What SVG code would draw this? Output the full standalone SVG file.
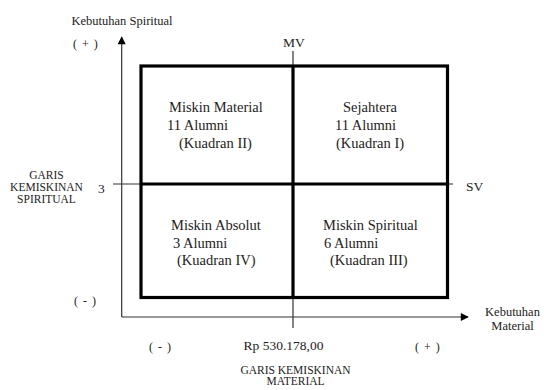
<svg xmlns="http://www.w3.org/2000/svg" width="544" height="390" viewBox="0 0 544 390">
<style>
text{font-family:"Liberation Serif","Times New Roman",serif;fill:#222}
.s{font-size:12px}
.m{font-size:13.5px}
.q{font-size:14.5px}
.c{font-size:11.5px;text-anchor:middle}
.thin{stroke:#333;stroke-width:1.2;fill:none}
.thick{stroke:#000;stroke-width:3.2;fill:none}
</style>
<defs>
<marker id="ah" viewBox="0 0 10 10" refX="9" refY="5" markerWidth="9" markerHeight="8" markerUnits="userSpaceOnUse" orient="auto"><path d="M0,0 L10,5 L0,10 Z" fill="#000"/></marker>
</defs>
<g id="connectors">
<path class="thin" d="M121.7,317 L121.7,37" marker-end="url(#ah)"/>
<path class="thin" d="M121.7,317 L468,317" marker-end="url(#ah)"/>
<path class="thin" d="M293,51 L293,328"/>
<path class="thin" d="M113,184 L453,184"/>
</g>
<g id="box">
<rect class="thick" x="141" y="66" width="306.5" height="231.5"/>
<line class="thick" x1="141" y1="184" x2="447.5" y2="184"/>
<line class="thick" x1="293" y1="66" x2="293" y2="297.5"/>
</g>
<g id="q2"><text class="q" x="169" y="112">Miskin Material</text><text class="q" x="167" y="130">11 Alumni</text><text class="q" x="179" y="148">(Kuadran II)</text></g>
<g id="q1"><text class="q" x="343" y="112">Sejahtera</text><text class="q" x="335" y="130">11 Alumni</text><text class="q" x="336" y="148">(Kuadran I)</text></g>
<g id="q4"><text class="q" x="171" y="230">Miskin Absolut</text><text class="q" x="173" y="248">3 Alumni</text><text class="q" x="177" y="265">(Kuadran IV)</text></g>
<g id="q3"><text class="q" x="323" y="230">Miskin Spiritual</text><text class="q" x="324" y="248">6 Alumni</text><text class="q" x="330" y="265">(Kuadran III)</text></g>
<g id="labels">
<text x="71.5" y="25" style="font-size:12.5px">Kebutuhan Spiritual</text>
<text class="s" x="73" y="48" style="word-spacing:2px">( + )</text>
<text class="m" x="283" y="47">MV</text>
<text class="m" x="98" y="193">3</text>
<text class="m" x="466" y="191">SV</text>
<text class="c" x="46.5" y="179">GARIS</text>
<text class="c" x="46.5" y="191">KEMISKINAN</text>
<text class="c" x="46.5" y="203">SPIRITUAL</text>
<text class="s" x="74" y="305" style="word-spacing:2px">( - )</text>
<text class="s" x="149" y="351" style="word-spacing:2px">( - )</text>
<text class="m" x="243.5" y="350">Rp 530.178,00</text>
<text class="s" x="415" y="351" style="word-spacing:2px">( + )</text>
<text class="c" x="295.5" y="374">GARIS KEMISKINAN</text>
<text class="c" x="295.5" y="385">MATERIAL</text>
<text x="512.5" y="316" style="font-size:12.5px;text-anchor:middle">Kebutuhan</text>
<text x="512.5" y="330" style="font-size:12.5px;text-anchor:middle">Material</text>
</g>
</svg>
